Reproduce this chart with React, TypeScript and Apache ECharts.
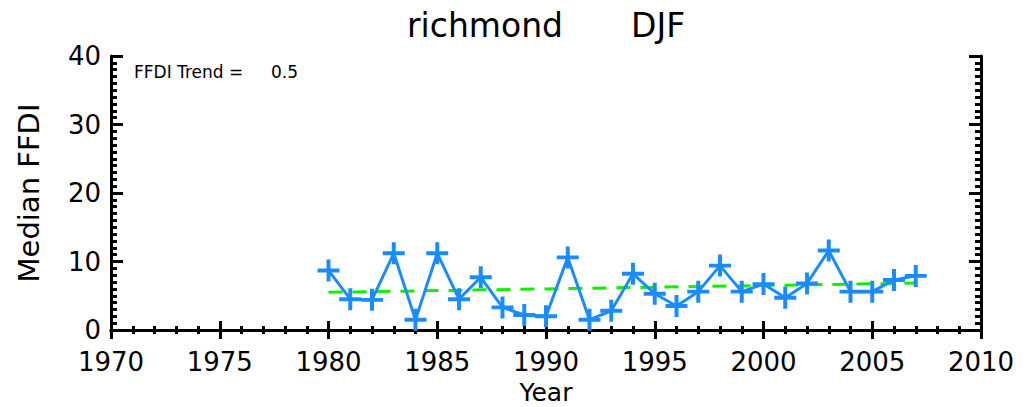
import React, { useEffect, useRef } from "react";
import * as echarts from "echarts";

const years = [1980, 1981, 1982, 1983, 1984, 1985, 1986, 1987, 1988, 1989, 1990, 1991, 1992, 1993, 1994, 1995, 1996, 1997, 1998, 1999, 2000, 2001, 2002, 2003, 2004, 2005, 2006, 2007];
const medianFFDI = [8.7, 4.5, 4.4, 11.2, 1.5, 11.2, 4.5, 7.7, 3.3, 2.2, 2.0, 10.6, 1.5, 2.8, 8.2, 5.3, 3.5, 5.6, 9.4, 5.6, 6.7, 4.7, 6.8, 11.6, 5.6, 5.6, 7.3, 7.9];
const trendYears = [1980, 2007];
const trendValues = [5.5, 6.85];
const stationName = "richmond";
const seasonName = "DJF";
const trendLabel = "FFDI Trend =";
const trendValueLabel = "0.5";

const PLUS = "path://M4.1,0h1.8v4.1h4.1v1.8h-4.1v4.1h-1.8v-4.1h-4.1v-1.8h4.1z";

export default function App() {
  const ref = useRef<HTMLDivElement>(null);
  useEffect(() => {
    const chart = echarts.init(ref.current!, null, { renderer: "svg" });
    const font = "DejaVu Sans";
    const axisLine = { show: true, lineStyle: { color: "#000", width: 3 } };
    const xTick = { show: true, inside: true, length: 9, lineStyle: { color: "#000", width: 3 } };
    const xMinor = { show: true, splitNumber: 5, length: 4, lineStyle: { color: "#000", width: 3 } };
    const yTick = { show: true, inside: true, length: 12, lineStyle: { color: "#000", width: 3 } };
    const yMinor = { show: true, splitNumber: 10, length: 6, lineStyle: { color: "#000", width: 3 } };
    chart.setOption({
      animation: false,
      backgroundColor: "#fff",
      graphic: [
        {
          type: "text",
          x: 407,
          y: 9,
          style: { text: stationName, fontFamily: font, fontSize: 33, fill: "#000" },
        },
        {
          type: "text",
          x: 631,
          y: 9,
          style: { text: seasonName, fontFamily: font, fontSize: 33, fill: "#000" },
        },
        {
          type: "text",
          x: 134,
          y: 63,
          style: { text: trendLabel, fontFamily: font, fontSize: 17, fill: "#000" },
        },
        {
          type: "text",
          x: 271,
          y: 63,
          style: { text: trendValueLabel, fontFamily: font, fontSize: 17, fill: "#000" },
        },
      ],
      grid: { left: 111, right: 53, top: 56, bottom: 77, containLabel: false, outerBoundsMode: "none" },
      xAxis: [
        {
          type: "value",
          min: 1970,
          max: 2010,
          interval: 5,
          name: "Year",
          nameLocation: "middle",
          nameGap: 47,
          nameTextStyle: { fontFamily: font, fontSize: 25, color: "#000" },
          axisLine,
          axisTick: xTick,
          minorTick: xMinor,
          axisLabel: { fontFamily: font, fontSize: 26, color: "#000", margin: 19, formatter: (v: number) => String(v) },
          splitLine: { show: false },
        },
        {
          type: "value",
          position: "top",
          min: 1970,
          max: 2010,
          interval: 5,
          axisLine,
          axisTick: xTick,
          minorTick: xMinor,
          axisLabel: { show: false },
          splitLine: { show: false },
        },
      ],
      yAxis: [
        {
          type: "value",
          min: 0,
          max: 40,
          interval: 10,
          name: "Median FFDI",
          nameLocation: "middle",
          nameGap: 68,
          nameTextStyle: { fontFamily: font, fontSize: 29, color: "#000" },
          axisLine,
          axisTick: yTick,
          minorTick: yMinor,
          axisLabel: { fontFamily: font, fontSize: 26, color: "#000", margin: 10 },
          splitLine: { show: false },
        },
        {
          type: "value",
          position: "right",
          min: 0,
          max: 40,
          interval: 10,
          axisLine,
          axisTick: yTick,
          minorTick: yMinor,
          axisLabel: { show: false },
          splitLine: { show: false },
        },
      ],
      series: [
        {
          type: "line",
          data: trendYears.map((y, i) => [y, trendValues[i]]),
          symbol: "none",
          lineStyle: { color: "#11ee00", width: 3, type: [14, 10] },
          z: 2,
        },
        {
          type: "line",
          data: years.map((y, i) => [y, medianFFDI[i]]),
          symbol: PLUS,
          symbolSize: 22,
          itemStyle: { color: "#1a8cff" },
          lineStyle: { color: "#1a8cff", width: 3 },
          z: 3,
        },
      ],
    });
    return () => chart.dispose();
  }, []);
  return <div ref={ref} style={{ position: "absolute", left: 0, top: 0, width: 1034, height: 407 }} />;
}
